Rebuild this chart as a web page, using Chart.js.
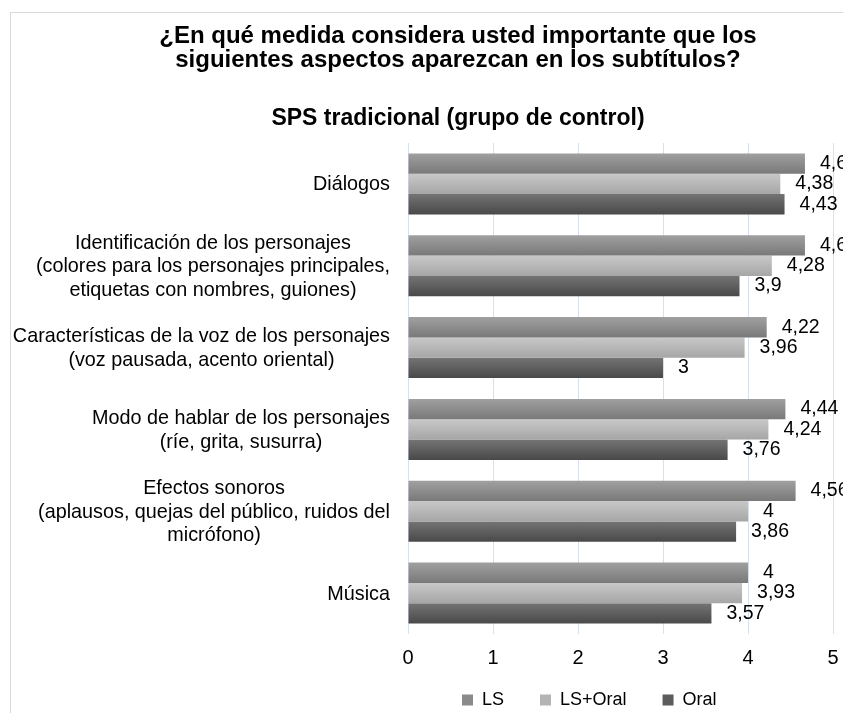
<!DOCTYPE html>
<html lang="es">
<head>
<meta charset="UTF-8">
<title>SPS tradicional (grupo de control)</title>
<script src="https://cdn.jsdelivr.net/npm/chart.js@4.4.1/dist/chart.umd.min.js"></script>
<style>
  html, body { margin: 0; padding: 0; background: #fff; overflow: hidden; }
  .frame { position: absolute; left: 10px; top: 12px; width: 900px; height: 760px; border: 1px solid #d9d9d9; }
  #myChart { position: absolute; left: 0; top: 0; }
</style>
</head>
<body>
<div class="frame"></div>
<canvas id="myChart" width="916" height="713"></canvas>
<script>
    // chart data
    const titleLines = ['¿En qué medida considera usted importante que los', 'siguientes aspectos aparezcan en los subtítulos?'];
    const subtitleText = 'SPS tradicional (grupo de control)';
    const categories = [
        ['Diálogos'],
        ['Identificación de los personajes', '(colores para los personajes principales,', 'etiquetas con nombres, guiones)'],
        ['Características de la voz de los personajes', '(voz pausada, acento oriental)'],
        ['Modo de hablar de los personajes', '(ríe, grita, susurra)'],
        ['Efectos sonoros', '(aplausos, quejas del público, ruidos del', 'micrófono)'],
        ['Música']
    ];
    const seriesNames = ['LS', 'LS+Oral', 'Oral'];
    const lsValues = [4.67, 4.67, 4.22, 4.44, 4.56, 4];
    const lsOralValues = [4.38, 4.28, 3.96, 4.24, 4, 3.93];
    const oralValues = [4.43, 3.9, 3, 3.76, 3.86, 3.57];
    const xTicks = [0, 1, 2, 3, 4, 5];

    const FONT = "'Liberation Sans', Arial, sans-serif";
    Chart.defaults.font.family = FONT;
    Chart.defaults.color = '#000';

    // vertical shading on each bar, like the original
    const barShading = {
        id: 'barShading',
        beforeDatasetsDraw(chart) {
            const ctx = chart.ctx;
            chart.data.datasets.forEach((ds, i) => {
                chart.getDatasetMeta(i).data.forEach(bar => {
                    const h = bar.height;
                    const g = ctx.createLinearGradient(0, bar.y - h / 2, 0, bar.y + h / 2);
                    g.addColorStop(0, ds.shade[0]);
                    g.addColorStop(1, ds.shade[1]);
                    bar.options = Object.assign({}, bar.options, { backgroundColor: g });
                });
            });
        }
    };

    // value labels with decimal comma
    const valueLabels = {
        id: 'valueLabels',
        afterDatasetsDraw(chart) {
            const ctx = chart.ctx;
            ctx.save();
            ctx.font = '19.5px ' + FONT;
            ctx.fillStyle = '#000';
            ctx.textAlign = 'left';
            ctx.textBaseline = 'middle';
            chart.data.datasets.forEach((ds, i) => {
                chart.getDatasetMeta(i).data.forEach((bar, j) => {
                    ctx.fillText(String(ds.data[j]).replace('.', ','), bar.x + 15, bar.y);
                });
            });
            ctx.restore();
        }
    };

    // category labels: each label's lines centered, block right-aligned to the axis
    const categoryLabels = {
        id: 'categoryLabels',
        afterDraw(chart) {
            const ctx = chart.ctx;
            const y = chart.scales.y;
            const right = chart.chartArea.left - 18;
            ctx.save();
            ctx.font = '19.8px ' + FONT;
            ctx.fillStyle = '#000';
            ctx.textAlign = 'center';
            ctx.textBaseline = 'middle';
            categories.forEach((lines, i) => {
                const cy = y.getPixelForTick(i) + 1;
                const w = Math.max(...lines.map(l => ctx.measureText(l).width));
                lines.forEach((line, j) => {
                    ctx.fillText(line, right - w / 2, cy + (j - (lines.length - 1) / 2) * 23.5);
                });
            });
            ctx.restore();
        }
    };

    // legend sits under the bars (not centred on the canvas) and a bit higher
    const legendShift = {
        id: 'legendShift',
        afterLayout(chart) {
            const lg = chart.legend;
            lg.left = 426;
            lg.top -= 15.5;
            lg.bottom -= 15.5;
        }
    };

    new Chart('myChart', {
        type: 'bar',
        data: {
            labels: categories,
            datasets: [
                { label: seriesNames[0], data: lsValues, backgroundColor: '#8a8a8a', shade: ['#a0a0a0', '#797979'] },
                { label: seriesNames[1], data: lsOralValues, backgroundColor: '#b4b4b4', shade: ['#c8c8c8', '#a6a6a6'] },
                { label: seriesNames[2], data: oralValues, backgroundColor: '#5c5c5c', shade: ['#747474', '#494949'] }
            ]
        },
        options: {
            indexAxis: 'y',
            responsive: false,
            animation: false,
            categoryPercentage: 0.745,
            barPercentage: 1,
            borderWidth: 0,
            layout: { padding: { left: 83, right: 83, top: 0, bottom: -21.5 } },
            scales: {
                x: {
                    type: 'linear',
                    min: xTicks[0],
                    max: xTicks[xTicks.length - 1],
                    ticks: { stepSize: 1, padding: 12.5, font: { size: 20 }, color: '#000' },
                    grid: { color: '#d6e0f1', drawTicks: false },
                    border: { display: false },
                    afterFit: s => { s.height = 36.5; }
                },
                y: {
                    ticks: { display: false },
                    grid: { display: false },
                    border: { display: false },
                    afterFit: s => { s.width = 325; }
                }
            },
            plugins: {
                title: {
                    display: true,
                    text: titleLines,
                    color: '#000',
                    font: { size: 24, weight: 'bold', lineHeight: '24px' },
                    padding: { top: 24, bottom: 20 }
                },
                subtitle: {
                    display: true,
                    text: subtitleText,
                    color: '#000',
                    font: { size: 23, weight: 'bold' },
                    padding: { top: 13, bottom: 10.4 }
                },
                legend: {
                    position: 'bottom',
                    align: 'start',
                    labels: { boxWidth: 11, boxHeight: 11, padding: 36, font: { size: 18 }, color: '#000' }
                },
                tooltip: { enabled: false }
            }
        },
        plugins: [barShading, valueLabels, categoryLabels, legendShift]
    });
</script>
</body>
</html>
